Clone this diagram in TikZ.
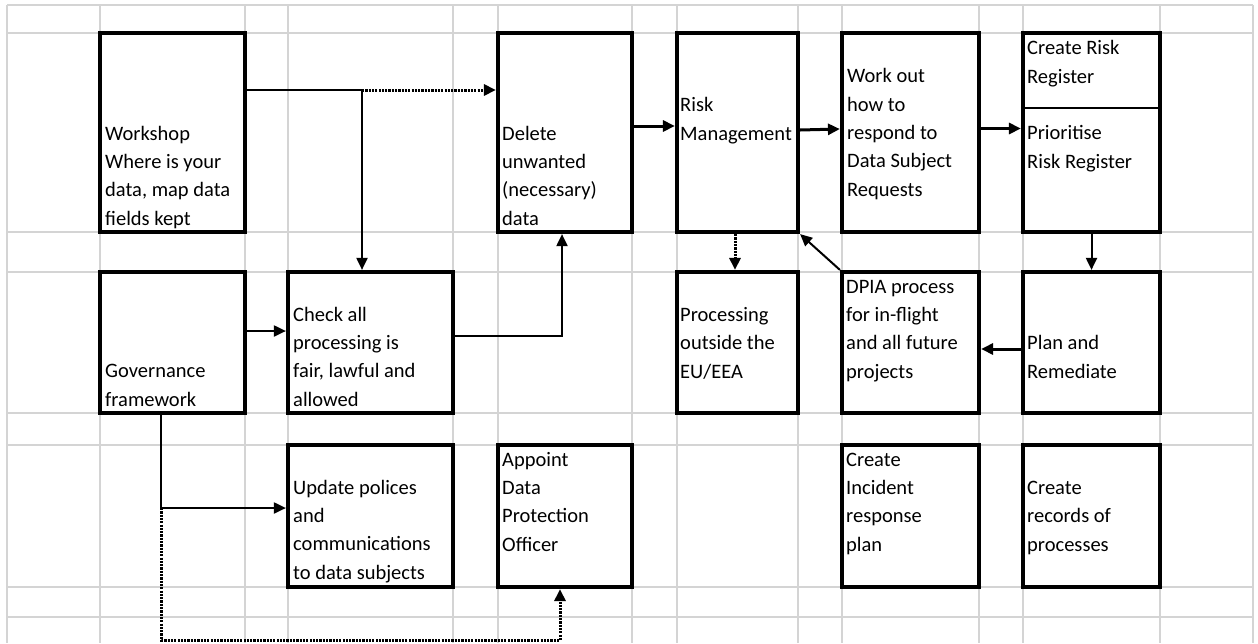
\documentclass[tikz,border=0pt]{standalone}
\usepackage{fontspec}
\setmainfont{Carlito}
\usetikzlibrary{fit,arrows.meta}
\newcommand{\cellfont}{\fontsize{20.5pt}{28.3pt}\selectfont}
\definecolor{gridgray}{RGB}{212,212,212}
\tikzset{
  gridline/.style={draw=gridgray, line width=1.8pt},
  box/.style={draw=black, line width=4.2pt, inner sep=0pt, rectangle},
  txt/.style={anchor=base west, inner sep=0pt, align=left, font=\cellfont},
  conn/.style={draw=black, line width=2pt, -{Triangle[length=12pt,width=11pt]}},
  plainconn/.style={draw=black, line width=2pt},
  thickconn/.style={draw=black, line width=3pt, -{Triangle[length=12pt,width=11pt]}},
  dotconn/.style={draw=black, line width=3pt, dash pattern=on 2.2pt off 1.1pt, -{Triangle[length=12pt,width=11pt]}},
  dotline/.style={draw=black, line width=3pt, dash pattern=on 2.2pt off 1.1pt},
  divider/.style={draw=black, line width=1.5pt}
}
\begin{document}
\begin{tikzpicture}[x=1pt,y=-1pt]
\fill[white] (0,0) rectangle (1258,643);
\useasboundingbox (0,0) rectangle (1258,643);
% spreadsheet grid
\foreach \gx in {7,100,245,288,453,498,632,677,798,842,979,1023,1160,1253}
  \draw[gridline] (\gx,5) -- (\gx,643);
\foreach \gy in {5,33,232,272,413,445,587,617}
  \draw[gridline] (7,\gy) -- (1253,\gy);
% boxes row 1
\node[box, fit={(100,33) (245,232)}] (ws) {};
\node[box, fit={(498,33) (632,232)}] (del) {};
\node[box, fit={(677,33) (798,232)}] (risk) {};
\node[box, fit={(842,33) (979,232)}] (work) {};
\node[box, fit={(1023,33) (1160,232)}] (reg) {};
% boxes row 2
\node[box, fit={(100,272) (245,413)}] (gov) {};
\node[box, fit={(288,272) (453,413)}] (chk) {};
\node[box, fit={(677,272) (798,413)}] (proc) {};
\node[box, fit={(842,272) (979,413)}] (dpia) {};
\node[box, fit={(1023,272) (1160,413)}] (plan) {};
% boxes row 3
\node[box, fit={(288,445) (453,587)}] (upd) {};
\node[box, fit={(498,445) (632,587)}] (dpo) {};
\node[box, fit={(842,445) (979,587)}] (inc) {};
\node[box, fit={(1023,445) (1160,587)}] (rec) {};
% divider in risk register box
\coordinate (div) at (1091.5,108);
\draw[divider] (reg.west |- div) -- (reg.east |- div);
% texts (anchored at the baseline of their last line)
\node[txt] (tws) at (105,225) {Workshop\\Where is your\\data, map data\\fields kept};
\node[txt] (tdel) at (502,225) {Delete\\unwanted\\(necessary)\\data};
\node[txt] (trisk) at (680,140) {Risk\\Management};
\node[txt] (twork) at (847,196) {Work out\\how to\\respond to\\Data Subject\\Requests};
\node[txt] (treg1) at (1027,83) {Create Risk\\Register};
\node[txt] (treg2) at (1027,168) {Prioritise\\Risk Register};
\node[txt] (tgov) at (105,406) {Governance\\framework};
\node[txt] (tchk) at (293,406) {Check all\\processing is\\fair, lawful and\\allowed};
\node[txt] (tproc) at (680,378) {Processing\\outside the\\EU/EEA};
\node[txt] (tdpia) at (846,378) {DPIA process\\for in-flight\\and all future\\projects};
\node[txt] (tplan) at (1027,378) {Plan and\\Remediate};
\node[txt] (tupd) at (293,579) {Update polices\\and\\communications\\to data subjects};
\node[txt] (tdpo) at (502,551) {Appoint\\Data\\Protection\\Officer};
\node[txt] (tinc) at (846,551) {Create\\Incident\\response\\plan};
\node[txt] (trec) at (1027,551) {Create\\records of\\processes};
% junction coordinates
\coordinate (j1) at (362,90);
\coordinate (j2) at (562,336);
\coordinate (j3) at (161,508);
\coordinate (j4) at (161,640);
\coordinate (j5) at (560,640);
% connectors
\draw[plainconn] (ws.east |- j1) -- (j1);
\draw[dotconn] (j1) -- (del.west |- j1);
\draw[conn] (j1) -- (j1 |- chk.north);
\draw[conn] (chk.east |- j2) -- (j2) -- (del.south -| j2);
\draw[conn] ([yshift=11.5pt]gov.east) -- ([yshift=11.5pt]chk.west);
\draw[conn] (gov.south -| j3) -- (j3) -- (upd.west |- j3);
\draw[dotline] (j3) -- (j4) -- (j5);
\draw[dotconn] (j5) -- (dpo.south -| j5);
\draw[thickconn] ([yshift=6.5pt]del.east) -- ([yshift=6.5pt]risk.west);
\draw[thickconn] ([yshift=2.5pt]risk.east) -- ([yshift=3.5pt]work.west);
\draw[thickconn] ([yshift=4pt]work.east) -- ([yshift=4pt]reg.west);
\draw[dotconn] ([xshift=-2.5pt]risk.south) -- ([xshift=-2.5pt]proc.north);
\draw[conn] (dpia.north west) -- (risk.south east);
\draw[conn] (reg.south) -- (plan.north);
\draw[thickconn] ([yshift=-6.5pt]plan.west) -- ([yshift=-6.5pt]dpia.east);
\end{tikzpicture}
\end{document}
